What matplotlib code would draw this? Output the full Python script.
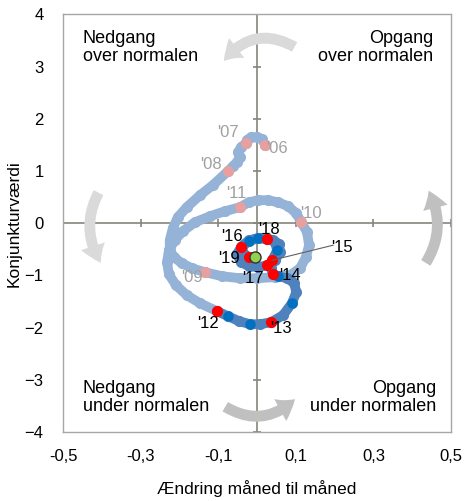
import matplotlib
matplotlib.use("Agg")
import matplotlib.pyplot as plt
from matplotlib.patches import FancyArrowPatch

plt.rcParams['font.family'] = ['Liberation Sans Narrow', 'Liberation Sans', 'DejaVu Sans']

# 2006-2011 (light strand): month-to-month change vs. business cycle value
light_x = [0.021, 0.013, 0.000, -0.015, -0.026, -0.028,
           -0.041, -0.049, -0.044, -0.052, -0.062, -0.075,
           -0.114, -0.147, -0.181, -0.204, -0.217, -0.225, -0.225, -0.214, -0.194, -0.168, -0.134,
           -0.090, -0.044, 0.000, 0.046, 0.085, 0.111, 0.126, 0.134, 0.129, 0.114,
           0.101, 0.080, 0.054, 0.028, 0.003, -0.021, -0.044,
           -0.083, -0.121, -0.160, -0.191, -0.212, -0.227, -0.232, -0.227, -0.209, -0.181, -0.147, -0.103]
light_y = [1.494, 1.609, 1.648, 1.648, 1.590, 1.533,
           1.456, 1.360, 1.264, 1.169, 1.092, 0.996,
           0.728, 0.536, 0.307, 0.115, -0.096, -0.326, -0.517, -0.651, -0.766, -0.862, -0.939,
           -1.015, -1.054, -1.054, -1.034, -0.996, -0.862, -0.651, -0.421, -0.172, 0.019,
           0.192, 0.326, 0.402, 0.441, 0.441, 0.402, 0.307,
           0.230, 0.134, 0.019, -0.153, -0.326, -0.517, -0.747, -0.977, -1.188, -1.379, -1.533, -1.686]

# 2012-2019 (dark strand)
dark_x = [-0.103, -0.075, -0.046, -0.018, 0.008, 0.036,
          0.067, 0.090, 0.101, 0.096, 0.077, 0.054, 0.041,
          0.036, 0.039,
          0.052, 0.046, 0.026, 0.003, -0.021, -0.041,
          -0.052, -0.041, -0.021, 0.003, 0.026,
          0.046, 0.059, 0.057, 0.041, 0.026,
          0.003, -0.021, -0.039, -0.036, -0.021, -0.005]
dark_y = [-1.686, -1.782, -1.877, -1.935, -1.935, -1.897,
          -1.762, -1.533, -1.322, -1.149, -1.054, -1.015, -0.977,
          -0.862, -0.709,
          -0.517, -0.364, -0.287, -0.287, -0.345, -0.460,
          -0.594, -0.747, -0.824, -0.843, -0.805,
          -0.709, -0.556, -0.402, -0.326, -0.307,
          -0.287, -0.326, -0.441, -0.575, -0.651, -0.651]

# January of each year
years = ["'06", "'07", "'08", "'09", "'10", "'11", "'12", "'13", "'14", "'15", "'16", "'17", "'18", "'19"]
year_x = [0.021, -0.028, -0.075, -0.134, 0.114, -0.044, -0.103, 0.036, 0.041, 0.039, -0.041, 0.026, 0.026, -0.021]
year_y = [1.494, 1.533, 0.996, -0.939, 0.019, 0.307, -1.686, -1.897, -0.977, -0.709, -0.460, -0.805, -0.307, -0.651]
label_x = [0.052, -0.075, -0.119, -0.168, 0.139, -0.054, -0.126, 0.062, 0.085, 0.219, -0.065, -0.010, 0.031, -0.072]
label_y = [1.437, 1.743, 1.130, -1.034, 0.192, 0.575, -1.916, -2.011, -0.996, -0.460, -0.249, -1.054, -0.115, -0.670]

# mid-year markers
mid_x = [-0.075, -0.018, 0.090, 0.054, 0.052, 0.003, -0.021]
mid_y = [-1.782, -1.935, -1.533, -1.015, -0.517, -0.287, -0.345]

last_x, last_y = -0.005, -0.651

xticks = [-0.5, -0.3, -0.1, 0.1, 0.3, 0.5]
xtick_labels = ['-0,5', '-0,3', '-0,1', '0,1', '0,3', '0,5']
yticks = [-4, -3, -2, -1, 0, 1, 2, 3, 4]


def main():
    fig = plt.figure(figsize=(4.65, 5.01), dpi=100)
    ax = fig.add_axes([0.1355, 0.1377, 0.8345, 0.8335])
    ax.set_xlim(-0.5, 0.5)
    ax.set_ylim(-4, 4)

    for s in ax.spines.values():
        s.set_color('#a6a6a6')
        s.set_linewidth(1.0)

    # cross lines with small ticks
    ax.axhline(0, color='#85857a', lw=1.2, zorder=1)
    ax.axvline(0, color='#85857a', lw=1.2, zorder=1)
    ax.plot(xticks, [0] * len(xticks), ls='none', marker='|', ms=6, mew=1.2, color='#85857a', zorder=1)
    ax.plot([0] * len(yticks), yticks, ls='none', marker='_', ms=6, mew=1.2, color='#85857a', zorder=1)

    ax.set_xticks(xticks)
    ax.set_xticklabels(xtick_labels)
    ax.set_yticks(yticks)
    ax.tick_params(length=0, labelsize=12, colors='black')
    ax.tick_params(axis='y', pad=14)
    ax.tick_params(axis='x', pad=12)
    ax.set_xlabel('Ændring måned til måned', fontsize=12.5, labelpad=12)
    ax.set_ylabel('Konjunkturværdi', fontsize=12.5, labelpad=2)

    # arrows
    arrows = [((0.103, 3.35), (-0.090, 3.065), 0.45, '#dadada'),
              ((0.431, -0.805), (0.439, 0.67), 0.3, '#c0c0c0'),
              ((-0.088, -3.487), (0.103, -3.333), 0.4, '#c0c0c0'),
              ((-0.405, 0.632), (-0.399, -0.805), 0.3, '#dadada')]
    for a, b, rad, col in arrows:
        ax.add_patch(FancyArrowPatch(a, b, connectionstyle='arc3,rad=%s' % rad,
                                     arrowstyle='simple,head_width=1.5,head_length=1.1,tail_width=0.65',
                                     mutation_scale=12, color=col, lw=0, zorder=1))

    # quadrant texts
    ax.text(-0.449, 3.70, 'Nedgang\nover normalen', ha='left', va='top', fontsize=13, linespacing=1.1)
    ax.text(0.454, 3.70, 'Opgang\nover normalen', ha='right', va='top', fontsize=13, linespacing=1.1, multialignment='right')
    ax.text(-0.449, -3.0, 'Nedgang\nunder normalen', ha='left', va='top', fontsize=13, linespacing=1.1)
    ax.text(0.462, -3.0, 'Opgang\nunder normalen', ha='right', va='top', fontsize=13, linespacing=1.1, multialignment='right')

    # paths
    ax.plot(light_x, light_y, color='#95b3d7', lw=7, marker='o', ms=7,
            solid_capstyle='round', solid_joinstyle='round', zorder=2)
    ax.plot(dark_x, dark_y, color='#4f81bd', lw=7, marker='o', ms=7,
            solid_capstyle='round', solid_joinstyle='round', zorder=3)

    ax.plot(mid_x, mid_y, ls='none', marker='o', ms=6.5, color='#0070c0', zorder=4)
    for i, yr in enumerate(years):
        old = i < 6
        ax.plot(year_x[i], year_y[i], marker='o', ms=7, ls='none',
                color='#e6a0a0' if old else '#ff0000', zorder=5)
        ax.text(label_x[i], label_y[i], yr, ha='center', va='center', fontsize=12,
                color='#a0a0a0' if old else 'black', zorder=6)

    # leader for '15
    ax.plot([year_x[9], 0.196], [year_y[9], -0.421], color='#606060', lw=0.8, zorder=6)

    ax.plot(last_x, last_y, marker='o', ms=8, color='#92d050', mec='#333333', mew=1, zorder=7)

    fig.savefig('out.png', dpi=100)


if __name__ == "__main__":
    main()
